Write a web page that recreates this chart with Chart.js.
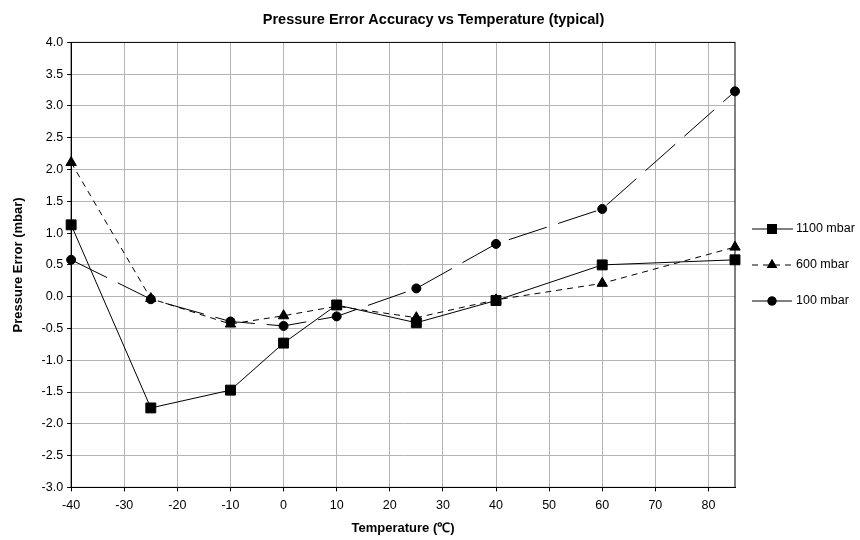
<!DOCTYPE html>
<html lang="en">
<head>
    <meta charset="UTF-8">
    <title>Pressure Error Accuracy vs Temperature</title>
    <script src="https://cdn.jsdelivr.net/npm/chart.js"></script>
    <style>
        body { margin: 0; background: #fff; }
    </style>
</head>
<body>

<div style="width: 860px; height: 540px;">
    <canvas id="chart"></canvas>
</div>

<script>
    // Temperatures (°C) and pressure error (mbar)
    const temps = [-40, -25, -10, 0, 10, 25, 40, 60, 85];
    const err1100 = [1.13, -1.75, -1.47, -0.73, -0.13, -0.41, -0.06, 0.50, 0.58];
    const err600 = [2.11, -0.03, -0.43, -0.30, -0.15, -0.33, -0.05, 0.21, 0.78];
    const err100 = [0.58, -0.04, -0.39, -0.46, -0.31, 0.13, 0.83, 1.38, 3.23];
    const seriesNames = ['1100 mbar', '600 mbar', '100 mbar'];

    const FONT = 'Liberation Sans, Arial, sans-serif';
    const toXY = vals => vals.map((v, i) => ({ x: temps[i], y: v }));

    // frame round the plot area + legend with line and marker, like the original
    const framePlugin = {
        id: 'frame',
        beforeDatasetsDraw(chart) {
            const { ctx, chartArea: a } = chart;
            ctx.save();
            ctx.strokeStyle = '#000';
            ctx.lineWidth = 1;
            ctx.strokeRect(a.left, a.top, a.right - a.left, a.bottom - a.top);
            ctx.restore();
        },
        afterDraw(chart) {
            const { ctx, chartArea: a } = chart;
            ctx.save();
            ctx.strokeStyle = '#000';
            ctx.lineWidth = 1;
            const x0 = a.right + 17;
            chart.data.datasets.forEach((ds, i) => {
                const y = 229 + i * 36;
                ctx.beginPath();
                ctx.setLineDash(ds.borderDash || []);
                ctx.moveTo(x0, y);
                ctx.lineTo(x0 + 41, y);
                ctx.stroke();
                ctx.setLineDash([]);
                Chart.helpers.drawPoint(ctx, {
                    pointStyle: ds.pointStyle, radius: ds.pointRadius, rotation: 0
                }, x0 + 20, y);
                ctx.fillStyle = '#000';
                ctx.fill();
                ctx.font = '12.5px ' + FONT;
                ctx.textBaseline = 'middle';
                ctx.fillText(ds.label, x0 + 44, y);
            });
            ctx.restore();
        }
    };

    const ctx = document.getElementById('chart').getContext('2d');
    new Chart(ctx, {
        type: 'line',
        data: {
            datasets: [{
                label: seriesNames[0],
                data: toXY(err1100),
                borderColor: '#000',
                backgroundColor: '#000',
                borderWidth: 1,
                pointStyle: 'rect',
                pointRadius: 7,
                borderDash: [],
                clip: false
            }, {
                label: seriesNames[1],
                data: toXY(err600),
                borderColor: '#000',
                backgroundColor: '#000',
                borderWidth: 1,
                pointStyle: 'triangle',
                pointRadius: 6,
                borderDash: [6, 5],
                clip: false
            }, {
                label: seriesNames[2],
                data: toXY(err100),
                borderColor: '#000',
                backgroundColor: '#000',
                borderWidth: 1,
                pointStyle: 'circle',
                pointRadius: 4.5,
                borderDash: [40, 12],
                clip: false
            }]
        },
        options: {
            responsive: true,
            maintainAspectRatio: false,
            animation: false,
            layout: {
                padding: { left: 7, right: 0, top: 1, bottom: 0 }
            },
            plugins: {
                title: {
                    display: true,
                    text: 'Pressure Error Accuracy vs Temperature (typical)',
                    color: '#000',
                    font: { family: FONT, size: 14.5, weight: 'bold' },
                    padding: { top: 10, bottom: 14 }
                },
                legend: { display: false },
                tooltip: { enabled: false }
            },
            scales: {
                x: {
                    type: 'linear',
                    min: -40,
                    max: 85,
                    border: { color: '#000' },
                    grid: { color: '#b4b4b4', tickColor: '#000', tickLength: 4 },
                    ticks: {
                        stepSize: 10,
                        includeBounds: false,
                        color: '#000',
                        maxRotation: 0,
                        padding: 7,
                        font: { family: FONT, size: 12.5 }
                    },
                    title: {
                        display: true,
                        text: 'Temperature (℃)',
                        color: '#000',
                        font: { family: FONT, size: 13, weight: 'bold' },
                        padding: { top: 0 }
                    }
                },
                y: {
                    min: -3,
                    max: 4,
                    border: { color: '#000' },
                    grid: { color: '#b4b4b4', tickColor: '#000', tickLength: 4 },
                    ticks: {
                        stepSize: 0.5,
                        color: '#000',
                        padding: 4,
                        font: { family: FONT, size: 12.5 },
                        callback: v => v.toFixed(1)
                    },
                    title: {
                        display: true,
                        text: 'Pressure Error (mbar)',
                        color: '#000',
                        font: { family: FONT, size: 13, weight: 'bold' },
                        padding: { bottom: 11 }
                    }
                },
                // empty axis that only reserves the room for the legend
                legendSpace: {
                    position: 'right',
                    min: 0,
                    max: 1,
                    border: { display: false },
                    grid: { display: false },
                    ticks: { display: false },
                    afterFit: s => { s.width = 125; }
                }
            }
        },
        plugins: [framePlugin]
    });
</script>
</body>
</html>
